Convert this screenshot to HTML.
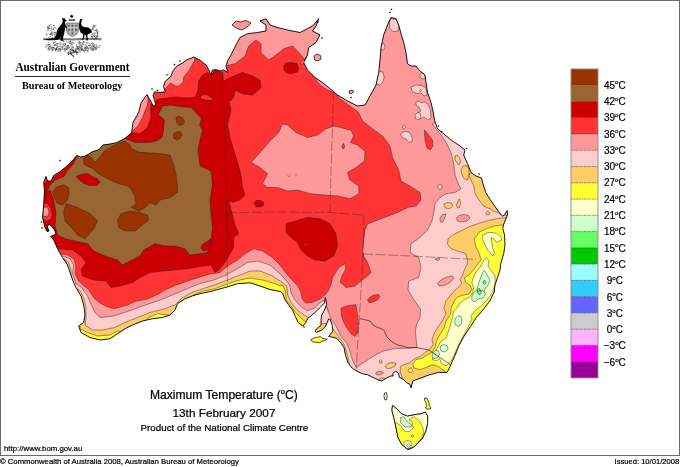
<!DOCTYPE html>
<html><head><meta charset="utf-8"><title>Maximum Temperature</title>
<style>
html,body{margin:0;padding:0;background:#fff;}
body{width:680px;height:467px;position:relative;overflow:hidden;font-family:"Liberation Sans",sans-serif;color:#000;}
#frame{position:absolute;left:0;top:0;width:678px;height:454px;border:1px solid #6a6a6a;}
.lg{font-family:"Liberation Sans",sans-serif;font-size:10px;fill:#000;stroke:#000;stroke-width:0.2px;}
.t{position:absolute;white-space:nowrap;line-height:1;-webkit-text-stroke:0.22px #000;}
#ag{left:15.5px;top:61.7px;font-family:"Liberation Serif",serif;font-weight:bold;font-size:11.2px;-webkit-text-stroke:0;transform:scaleY(1.05);transform-origin:0 80%;}
#bm{left:22px;top:81px;font-family:"Liberation Serif",serif;font-weight:bold;font-size:10.2px;-webkit-text-stroke:0;transform:scaleY(1.05);transform-origin:0 80%;}
#rule{position:absolute;left:15px;top:75.5px;width:114.5px;height:1px;background:#2a2a2a;}
#t1{left:150px;top:388.5px;font-size:12.1px;}
#t2{left:172.5px;top:407.5px;font-size:11.8px;}
#t3{left:140.5px;top:422.6px;font-size:9.8px;}
#url{left:3.7px;top:445.2px;font-size:8.1px;transform:scaleX(0.963);transform-origin:0 0;}
#cp{left:0px;top:458.2px;font-size:8px;transform:scaleX(0.9625);transform-origin:0 0;}
#is{right:0.5px;top:458.2px;font-size:7.9px;transform:scaleX(0.962);transform-origin:100% 0;}
sup.o{font-size:7.6px;vertical-align:baseline;position:relative;top:-4.6px;line-height:0;}
</style></head><body>
<div id="frame"></div>
<svg width="680" height="456" viewBox="0 0 680 456" style="position:absolute;left:0;top:0">
<defs><clipPath id="land"><path d="M147.0,94.5 L149.4,98.8 L153.8,106.8 L155.6,104.0 L153.0,95.3 L154.7,91.8 L158.2,92.6 L165.3,91.8 L163.5,86.5 L165.3,81.2 L170.6,76.8 L173.2,70.6 L176.8,66.2 L183.0,62.6 L186.5,60.0 L193.7,57.0 L200.0,60.0 L206.0,65.0 L209.5,71.0 L210.5,75.0 L212.5,70.0 L216.0,69.5 L220.0,71.0 L223.7,70.0 L228.0,72.5 L226.0,66.0 L227.5,61.0 L231.0,55.0 L234.0,49.0 L236.0,45.0 L240.0,37.5 L247.5,33.7 L257.5,32.5 L266.0,31.0 L266.0,25.0 L260.0,21.0 L266.0,18.7 L270.0,25.0 L277.5,27.5 L287.5,30.0 L300.0,32.5 L307.5,28.7 L313.7,25.0 L318.7,18.7 L316.0,26.0 L312.5,31.0 L320.0,35.0 L316.0,42.5 L308.7,47.5 L307.5,55.0 L303.7,62.5 L307.5,70.0 L315.0,77.5 L322.5,82.5 L330.0,88.7 L337.5,95.0 L347.5,101.0 L357.5,106.0 L365.0,105.0 L370.0,96.0 L376.0,85.0 L378.7,72.5 L380.0,60.0 L381.0,47.5 L383.7,35.0 L387.5,25.0 L391.0,17.5 L396.0,18.7 L398.7,25.0 L401.0,33.7 L403.7,42.5 L406.0,52.5 L407.5,63.7 L411.0,66.0 L416.0,66.0 L420.0,71.0 L425.0,75.0 L426.0,82.5 L427.5,92.5 L431.0,102.5 L433.0,111.0 L434.5,120.0 L437.5,128.7 L445.0,135.0 L452.5,141.0 L460.0,146.0 L465.0,150.0 L463.7,155.0 L467.5,163.7 L471.0,172.5 L476.0,176.0 L481.4,178.0 L483.0,184.0 L485.7,192.5 L490.0,199.4 L494.2,205.4 L498.5,211.4 L502.5,216.2 L504.5,215.0 L507.0,210.5 L507.6,214.0 L506.2,218.2 L503.7,224.2 L502.8,228.5 L504.5,235.0 L505.0,245.0 L503.7,253.7 L501.0,262.5 L500.0,270.0 L497.5,277.5 L495.0,285.0 L494.2,292.0 L490.0,300.7 L483.5,309.3 L476.0,317.8 L470.7,326.4 L464.2,336.0 L458.9,345.7 L454.6,356.4 L450.3,366.0 L447.1,372.4 L438.5,372.4 L430.0,374.6 L421.4,377.8 L412.8,381.0 L411.0,388.0 L410.0,384.4 L406.5,382.6 L403.0,379.0 L399.4,377.4 L398.5,373.0 L395.5,371.2 L392.8,373.5 L393.2,376.0 L390.6,376.0 L386.2,378.2 L381.8,381.0 L378.2,380.0 L373.0,377.4 L367.6,374.7 L362.4,373.8 L357.0,371.2 L352.6,368.5 L348.2,363.2 L345.5,355.3 L344.0,347.6 L341.2,343.4 L337.0,338.5 L332.9,337.2 L328.7,336.5 L331.0,333.5 L332.9,330.9 L332.2,325.3 L330.0,319.0 L328.5,319.0 L327.3,322.5 L325.2,326.7 L321.7,330.2 L316.2,332.3 L314.8,331.0 L317.5,328.0 L321.0,325.5 L321.0,319.8 L321.7,315.0 L324.5,310.0 L326.6,304.5 L325.9,299.0 L325.2,297.5 L324.5,303.0 L320.3,307.3 L315.5,312.0 L311.3,315.6 L307.8,318.4 L305.7,322.5 L303.0,326.0 L298.0,322.5 L295.3,316.3 L292.5,310.0 L288.3,304.5 L284.9,299.6 L282.8,293.3 L280.0,291.5 L270.0,289.5 L260.0,286.0 L250.0,282.8 L237.5,283.7 L225.0,287.5 L212.5,291.0 L200.0,293.7 L195.0,295.0 L185.0,298.7 L177.5,303.7 L175.0,310.0 L170.0,315.0 L162.5,317.5 L152.5,318.7 L142.5,321.0 L132.5,325.0 L125.0,328.7 L117.5,333.7 L110.0,338.7 L100.0,340.0 L90.0,337.5 L81.0,332.5 L78.7,326.0 L83.7,322.5 L85.0,315.0 L83.7,305.0 L81.0,296.0 L76.0,287.5 L73.0,281.0 L71.0,275.0 L67.5,265.0 L62.5,257.5 L57.5,248.7 L53.7,240.0 L50.5,236.5 L53.0,235.5 L56.0,234.0 L54.5,230.0 L51.5,226.0 L48.5,224.0 L47.5,227.0 L49.0,231.0 L47.0,231.5 L45.0,227.5 L42.5,217.5 L43.7,205.0 L44.5,190.0 L43.7,182.5 L46.0,176.5 L47.5,181.0 L51.2,181.0 L53.5,175.7 L59.5,172.0 L67.0,166.0 L73.7,159.2 L76.7,155.5 L80.5,157.0 L85.0,156.2 L92.5,151.7 L99.2,149.5 L103.0,145.0 L109.0,144.2 L116.5,142.7 L124.0,139.0 L131.5,133.0 L132.0,130.0 L133.0,122.5 L138.7,112.5 L141.2,102.5Z"/></clipPath><clipPath id="tasc"><path d="M392.5,405.5 L391.7,410.0 L394.0,419.0 L396.0,428.0 L397.7,437.0 L401.5,444.4 L408.0,449.7 L413.4,447.4 L418.0,443.0 L422.4,438.4 L426.0,431.0 L427.7,423.4 L427.7,416.0 L425.4,412.0 L421.0,413.7 L415.0,414.5 L407.5,416.0 L401.5,413.7 L397.0,409.0 L394.7,407.0Z"/></clipPath></defs>
<g clip-path="url(#land)"><path d="M147.0,94.5 L149.4,98.8 L153.8,106.8 L155.6,104.0 L153.0,95.3 L154.7,91.8 L158.2,92.6 L165.3,91.8 L163.5,86.5 L165.3,81.2 L170.6,76.8 L173.2,70.6 L176.8,66.2 L183.0,62.6 L186.5,60.0 L193.7,57.0 L200.0,60.0 L206.0,65.0 L209.5,71.0 L210.5,75.0 L212.5,70.0 L216.0,69.5 L220.0,71.0 L223.7,70.0 L228.0,72.5 L226.0,66.0 L227.5,61.0 L231.0,55.0 L234.0,49.0 L236.0,45.0 L240.0,37.5 L247.5,33.7 L257.5,32.5 L266.0,31.0 L266.0,25.0 L260.0,21.0 L266.0,18.7 L270.0,25.0 L277.5,27.5 L287.5,30.0 L300.0,32.5 L307.5,28.7 L313.7,25.0 L318.7,18.7 L316.0,26.0 L312.5,31.0 L320.0,35.0 L316.0,42.5 L308.7,47.5 L307.5,55.0 L303.7,62.5 L307.5,70.0 L315.0,77.5 L322.5,82.5 L330.0,88.7 L337.5,95.0 L347.5,101.0 L357.5,106.0 L365.0,105.0 L370.0,96.0 L376.0,85.0 L378.7,72.5 L380.0,60.0 L381.0,47.5 L383.7,35.0 L387.5,25.0 L391.0,17.5 L396.0,18.7 L398.7,25.0 L401.0,33.7 L403.7,42.5 L406.0,52.5 L407.5,63.7 L411.0,66.0 L416.0,66.0 L420.0,71.0 L425.0,75.0 L426.0,82.5 L427.5,92.5 L431.0,102.5 L433.0,111.0 L434.5,120.0 L437.5,128.7 L445.0,135.0 L452.5,141.0 L460.0,146.0 L465.0,150.0 L463.7,155.0 L467.5,163.7 L471.0,172.5 L476.0,176.0 L481.4,178.0 L483.0,184.0 L485.7,192.5 L490.0,199.4 L494.2,205.4 L498.5,211.4 L502.5,216.2 L504.5,215.0 L507.0,210.5 L507.6,214.0 L506.2,218.2 L503.7,224.2 L502.8,228.5 L504.5,235.0 L505.0,245.0 L503.7,253.7 L501.0,262.5 L500.0,270.0 L497.5,277.5 L495.0,285.0 L494.2,292.0 L490.0,300.7 L483.5,309.3 L476.0,317.8 L470.7,326.4 L464.2,336.0 L458.9,345.7 L454.6,356.4 L450.3,366.0 L447.1,372.4 L438.5,372.4 L430.0,374.6 L421.4,377.8 L412.8,381.0 L411.0,388.0 L410.0,384.4 L406.5,382.6 L403.0,379.0 L399.4,377.4 L398.5,373.0 L395.5,371.2 L392.8,373.5 L393.2,376.0 L390.6,376.0 L386.2,378.2 L381.8,381.0 L378.2,380.0 L373.0,377.4 L367.6,374.7 L362.4,373.8 L357.0,371.2 L352.6,368.5 L348.2,363.2 L345.5,355.3 L344.0,347.6 L341.2,343.4 L337.0,338.5 L332.9,337.2 L328.7,336.5 L331.0,333.5 L332.9,330.9 L332.2,325.3 L330.0,319.0 L328.5,319.0 L327.3,322.5 L325.2,326.7 L321.7,330.2 L316.2,332.3 L314.8,331.0 L317.5,328.0 L321.0,325.5 L321.0,319.8 L321.7,315.0 L324.5,310.0 L326.6,304.5 L325.9,299.0 L325.2,297.5 L324.5,303.0 L320.3,307.3 L315.5,312.0 L311.3,315.6 L307.8,318.4 L305.7,322.5 L303.0,326.0 L298.0,322.5 L295.3,316.3 L292.5,310.0 L288.3,304.5 L284.9,299.6 L282.8,293.3 L280.0,291.5 L270.0,289.5 L260.0,286.0 L250.0,282.8 L237.5,283.7 L225.0,287.5 L212.5,291.0 L200.0,293.7 L195.0,295.0 L185.0,298.7 L177.5,303.7 L175.0,310.0 L170.0,315.0 L162.5,317.5 L152.5,318.7 L142.5,321.0 L132.5,325.0 L125.0,328.7 L117.5,333.7 L110.0,338.7 L100.0,340.0 L90.0,337.5 L81.0,332.5 L78.7,326.0 L83.7,322.5 L85.0,315.0 L83.7,305.0 L81.0,296.0 L76.0,287.5 L73.0,281.0 L71.0,275.0 L67.5,265.0 L62.5,257.5 L57.5,248.7 L53.7,240.0 L50.5,236.5 L53.0,235.5 L56.0,234.0 L54.5,230.0 L51.5,226.0 L48.5,224.0 L47.5,227.0 L49.0,231.0 L47.0,231.5 L45.0,227.5 L42.5,217.5 L43.7,205.0 L44.5,190.0 L43.7,182.5 L46.0,176.5 L47.5,181.0 L51.2,181.0 L53.5,175.7 L59.5,172.0 L67.0,166.0 L73.7,159.2 L76.7,155.5 L80.5,157.0 L85.0,156.2 L92.5,151.7 L99.2,149.5 L103.0,145.0 L109.0,144.2 L116.5,142.7 L124.0,139.0 L131.5,133.0 L132.0,130.0 L133.0,122.5 L138.7,112.5 L141.2,102.5Z" fill="#FF3333"/>
<path d="M55.0,252.0 L61.0,253.7 L67.5,255.0 L73.7,258.7 L76.0,266.0 L75.0,273.7 L78.7,281.0 L84.0,286.0 L88.7,289.5 L94.0,298.0 L100.0,303.0 L107.5,307.0 L114.0,308.7 L120.0,307.0 L127.5,305.0 L135.0,301.5 L147.5,299.0 L157.5,294.5 L165.0,290.0 L175.0,285.5 L187.5,281.0 L200.0,277.0 L210.0,274.0 L220.0,272.5 L227.5,266.0 L237.5,260.0 L245.0,253.7 L253.7,248.7 L262.5,251.0 L272.5,257.5 L280.0,265.0 L287.5,275.0 L295.0,283.0 L298.0,286.0 L300.9,292.0 L302.3,299.0 L305.7,303.0 L312.0,302.4 L319.0,299.6 L324.5,295.4 L328.0,291.3 L330.8,285.0 L332.5,277.5 L338.7,267.5 L345.0,263.7 L346.0,268.7 L342.0,276.0 L340.0,282.0 L346.0,287.5 L355.0,286.0 L361.0,281.0 L367.5,276.0 L371.0,272.5 L367.5,262.5 L363.7,256.0 L362.5,250.0 L363.7,240.0 L365.0,230.0 L367.5,224.0 L375.0,221.0 L385.0,217.3 L397.5,212.5 L407.5,207.5 L416.0,206.0 L421.0,200.0 L420.0,192.5 L410.0,186.0 L401.0,181.0 L398.7,170.0 L392.5,157.5 L390.0,146.0 L382.5,136.0 L372.5,128.7 L362.5,121.0 L358.7,112.5 L350.0,106.0 L340.0,98.7 L335.0,93.0 L327.5,90.0 L320.0,85.0 L315.0,78.7 L312.0,74.0 L330.0,40.0 L360.0,5.0 L520.0,5.0 L530.0,300.0 L460.0,400.0 L300.0,400.0 L200.0,360.0 L60.0,360.0 L40.0,300.0 L48.0,256.0Z" fill="#FF9999" stroke="#222" stroke-width="0.45" stroke-linejoin="round"/>
<path d="M222.0,66.5 L225.0,66.0 L235.0,63.7 L245.0,56.0 L248.7,46.0 L256.0,40.0 L261.0,43.7 L261.0,52.5 L268.7,60.0 L276.0,55.0 L283.7,48.7 L292.5,46.0 L298.7,52.5 L305.0,60.0 L303.7,63.7 L300.0,64.0 L312.0,50.0 L330.0,15.0 L260.0,8.0 L222.0,40.0Z" fill="#FF9999" stroke="#222" stroke-width="0.45" stroke-linejoin="round"/>
<path d="M163.0,92.5 L166.0,88.0 L170.6,83.0 L174.0,85.0 L177.6,86.5 L180.0,85.0 L183.0,82.0 L183.8,76.8 L189.0,70.6 L191.8,65.3 L194.4,61.0 L195.0,55.0 L160.0,55.0 L150.0,90.0Z" fill="#FF9999" stroke="#222" stroke-width="0.45" stroke-linejoin="round"/>
<path d="M147.0,93.0 L148.0,98.0 L147.5,105.0 L145.0,111.0 L142.5,117.5 L138.7,125.0 L133.7,130.0 L125.0,135.0 L125.0,90.0Z" fill="#FF9999" stroke="#222" stroke-width="0.45" stroke-linejoin="round"/>
<path d="M251.0,162.5 L260.0,152.5 L270.0,141.0 L278.7,132.5 L282.5,123.7 L287.5,125.0 L296.0,132.5 L307.5,137.5 L317.5,135.0 L326.0,128.7 L335.0,126.0 L345.0,128.7 L351.0,130.0 L353.7,136.0 L350.5,142.5 L357.5,145.0 L365.0,151.0 L364.5,161.0 L356.0,167.5 L347.5,172.5 L350.0,180.0 L358.7,186.0 L359.0,193.7 L350.0,198.7 L337.5,196.0 L325.0,195.0 L310.0,193.7 L297.5,190.0 L287.5,191.0 L277.5,187.5 L267.5,187.5 L262.5,183.7 L267.5,173.7 L260.0,167.5Z" fill="#FF9999" stroke="#222" stroke-width="0.45" stroke-linejoin="round"/>
<path d="M288.0,175.7 L289.0,174.7 L290.2,175.7 L289.0,176.8Z" fill="#FFFFCC" stroke="#222" stroke-width="0.45" stroke-linejoin="round"/>
<path d="M295.0,174.5 L296.0,173.6 L297.0,174.5 L296.0,175.5Z" fill="#FFFFCC" stroke="#222" stroke-width="0.45" stroke-linejoin="round"/>
<path d="M55.0,255.0 L62.5,256.0 L70.0,258.7 L73.7,265.0 L72.5,273.7 L76.0,283.7 L81.0,287.0 L87.0,295.0 L91.0,304.0 L95.0,312.5 L100.0,317.5 L112.5,316.3 L127.5,311.5 L142.5,306.0 L160.0,300.0 L172.5,295.0 L185.0,289.5 L200.0,283.5 L212.5,280.5 L225.0,275.5 L237.5,268.7 L247.5,262.5 L257.5,261.0 L270.0,265.0 L280.0,273.7 L286.5,281.0 L289.7,285.0 L291.1,293.3 L295.3,300.3 L300.9,306.6 L307.1,310.7 L314.8,308.0 L319.6,303.0 L324.0,300.0 L328.0,310.0 L326.0,335.0 L300.0,345.0 L200.0,360.0 L60.0,360.0 L40.0,300.0 L48.0,258.0Z" fill="#FFCCCC" stroke="#222" stroke-width="0.45" stroke-linejoin="round"/>
<path d="M318.0,325.0 L322.0,306.0 L326.6,307.3 L328.7,312.8 L331.5,319.8 L335.6,325.3 L338.4,330.9 L341.2,336.5 L346.8,343.4 L349.5,350.0 L352.6,360.6 L356.2,367.6 L362.4,363.2 L369.4,358.8 L376.5,354.4 L383.5,350.9 L392.4,349.0 L401.2,348.2 L410.0,348.2 L417.0,347.4 L416.2,339.4 L415.3,330.6 L417.0,323.5 L420.0,318.0 L420.5,309.0 L414.0,300.0 L408.0,290.0 L408.7,281.0 L418.7,277.5 L421.0,267.5 L418.7,257.5 L410.0,252.5 L411.0,243.7 L420.0,237.5 L427.5,230.0 L432.0,221.0 L433.7,212.5 L435.0,203.7 L440.0,197.5 L446.0,193.7 L455.0,192.5 L461.0,188.7 L458.7,185.0 L455.0,175.0 L453.7,163.7 L451.0,152.5 L446.0,142.5 L440.0,133.7 L435.0,127.5 L432.0,124.0 L445.0,118.0 L520.0,200.0 L530.0,300.0 L460.0,400.0 L340.0,395.0 L322.0,340.0Z" fill="#FFCCCC" stroke="#222" stroke-width="0.45" stroke-linejoin="round"/>
<path d="M381.0,44.0 L384.0,43.5 L385.0,47.0 L383.5,50.0 L381.0,50.0Z" fill="#FFCCCC" stroke="#222" stroke-width="0.45" stroke-linejoin="round"/>
<path d="M378.0,74.0 L380.0,71.5 L383.0,72.0 L384.2,77.0 L383.0,82.0 L380.0,85.0 L377.5,84.5 L376.0,82.0Z" fill="#FFCCCC" stroke="#222" stroke-width="0.45" stroke-linejoin="round"/>
<path d="M389.5,22.0 L391.0,18.5 L396.5,19.5 L398.8,25.5 L398.0,31.0 L393.0,31.5 L389.5,28.0Z" fill="#FFCCCC" stroke="#222" stroke-width="0.45" stroke-linejoin="round"/>
<path d="M420.0,73.5 L423.0,72.5 L425.5,75.0 L425.0,78.5 L422.0,79.0 L420.0,77.0Z" fill="#FFCCCC" stroke="#222" stroke-width="0.45" stroke-linejoin="round"/>
<path d="M411.0,87.0 L416.0,85.0 L422.0,85.5 L426.0,88.0 L427.0,95.0 L424.0,96.0 L421.0,93.0 L416.0,93.5 L412.0,91.0Z" fill="#FFCCCC" stroke="#222" stroke-width="0.45" stroke-linejoin="round"/>
<path d="M416.0,102.0 L419.0,101.0 L422.0,103.0 L424.0,101.5 L428.0,104.0 L430.5,110.0 L431.0,118.0 L428.0,120.0 L424.0,117.0 L420.0,119.0 L416.5,117.5 L418.0,113.0 L421.0,111.0 L419.0,107.0 L416.0,105.0Z" fill="#FFCCCC" stroke="#222" stroke-width="0.45" stroke-linejoin="round"/>
<path d="M400.5,134.0 L404.0,131.5 L409.0,132.0 L411.5,136.0 L412.5,141.0 L409.0,142.5 L406.0,139.0 L402.0,137.5Z" fill="#FFCCCC" stroke="#222" stroke-width="0.45" stroke-linejoin="round"/>
<path d="M402.5,126.0 L404.5,125.0 L406.0,127.0 L404.5,129.0 L402.8,128.5Z" fill="#FFCCCC" stroke="#222" stroke-width="0.45" stroke-linejoin="round"/>
<path d="M415.0,115.0 L417.5,112.5 L420.5,113.5 L421.0,117.5 L418.0,120.0 L415.5,118.5Z" fill="#FFCCCC" stroke="#222" stroke-width="0.45" stroke-linejoin="round"/>
<path d="M438.0,185.0 L440.0,184.3 L442.3,186.0 L441.7,188.8 L439.5,189.5 L437.7,187.5Z" fill="#FFCCCC" stroke="#222" stroke-width="0.45" stroke-linejoin="round"/>
<path d="M456.5,218.0 L459.0,215.5 L464.0,214.5 L468.5,215.5 L470.0,218.0 L467.0,221.0 L461.0,222.0 L457.5,221.0Z" fill="#FF9999" stroke="#222" stroke-width="0.45" stroke-linejoin="round"/>
<path d="M440.0,218.0 L442.5,214.5 L446.0,214.0 L444.5,218.5 L442.5,222.5 L440.2,221.5Z" fill="#FF9999" stroke="#222" stroke-width="0.45" stroke-linejoin="round"/>
<path d="M437.5,283.5 L441.0,280.0 L447.0,277.0 L452.5,276.0 L453.8,278.5 L450.0,282.5 L444.0,285.5 L439.0,286.0Z" fill="#FF9999" stroke="#222" stroke-width="0.45" stroke-linejoin="round"/>
<path d="M435.0,259.0 L437.5,258.0 L440.0,259.0 L437.5,260.5Z" fill="#FF9999" stroke="#222" stroke-width="0.45" stroke-linejoin="round"/>
<path d="M375.6,373.0 L378.0,371.3 L382.0,371.5 L383.5,373.0 L381.0,374.7 L377.0,374.9Z" fill="#FF9999" stroke="#222" stroke-width="0.45" stroke-linejoin="round"/>
<path d="M56.0,258.0 L63.7,258.7 L68.7,262.5 L71.0,270.0 L71.0,277.5 L75.0,287.5 L79.5,290.0 L83.7,297.5 L86.0,307.5 L86.0,317.5 L85.0,325.0 L92.5,330.0 L102.5,330.0 L115.0,327.5 L125.0,322.5 L137.5,317.5 L150.0,312.5 L165.0,308.7 L175.0,305.0 L182.5,297.5 L193.0,292.0 L205.0,288.0 L215.0,284.8 L225.0,281.0 L237.5,276.0 L250.0,271.0 L260.0,271.0 L272.5,276.0 L282.5,282.5 L287.0,286.4 L287.6,294.7 L291.1,302.4 L295.3,308.0 L300.9,312.8 L306.4,316.3 L309.0,318.0 L312.0,322.0 L300.0,345.0 L200.0,360.0 L60.0,360.0 L40.0,300.0 L48.0,260.0Z" fill="#FFCC66" stroke="#222" stroke-width="0.45" stroke-linejoin="round"/>
<path d="M403.0,380.0 L400.3,372.0 L400.3,366.5 L403.2,365.0 L409.6,362.8 L415.0,358.5 L420.3,356.4 L425.7,352.1 L430.0,348.9 L433.2,344.6 L432.1,339.3 L434.3,332.8 L438.5,326.4 L442.8,320.0 L446.0,313.6 L443.9,308.2 L446.0,300.7 L450.0,296.0 L451.8,294.0 L454.5,290.5 L459.0,286.8 L461.8,283.2 L460.0,279.5 L462.7,275.0 L464.5,269.5 L467.3,264.0 L467.3,258.6 L465.5,253.2 L458.2,251.4 L451.0,248.6 L447.3,244.0 L448.2,238.6 L452.7,235.0 L460.0,231.4 L469.0,226.8 L479.0,223.2 L489.0,220.5 L498.2,218.4 L503.0,218.0 L530.0,215.0 L530.0,300.0 L460.0,400.0 L405.0,395.0Z" fill="#FFCC66" stroke="#222" stroke-width="0.45" stroke-linejoin="round"/>
<path d="M470.3,178.8 L473.7,185.7 L475.4,194.2 L479.7,201.0 L484.0,206.2 L490.0,208.8 L494.2,211.4 L497.7,212.2 L500.0,214.0 L510.0,216.0 L512.0,200.0 L490.0,175.0 L477.0,170.0 L469.0,174.0Z" fill="#FFCC66" stroke="#222" stroke-width="0.45" stroke-linejoin="round"/>
<path d="M485.7,213.0 L487.5,211.4 L490.0,212.5 L489.0,214.8 L486.5,214.8Z" fill="#FFCC66" stroke="#222" stroke-width="0.45" stroke-linejoin="round"/>
<path d="M461.0,170.0 L463.0,166.0 L466.5,165.5 L468.8,169.0 L469.0,175.0 L467.5,180.0 L464.0,178.5 L462.0,175.0Z" fill="#FFCC66" stroke="#222" stroke-width="0.45" stroke-linejoin="round"/>
<path d="M455.0,156.0 L457.0,155.0 L459.5,157.5 L460.5,162.0 L459.0,165.0 L457.0,163.0 L455.3,160.0Z" fill="#FFCC66" stroke="#222" stroke-width="0.45" stroke-linejoin="round"/>
<path d="M443.7,204.5 L447.0,202.5 L451.5,203.0 L452.8,206.0 L449.5,208.7 L445.5,208.0Z" fill="#FFCC66" stroke="#222" stroke-width="0.45" stroke-linejoin="round"/>
<path d="M456.5,205.0 L458.0,201.0 L459.5,199.0 L460.5,203.0 L459.5,207.5 L457.5,207.8Z" fill="#FFCC66" stroke="#222" stroke-width="0.45" stroke-linejoin="round"/>
<path d="M385.3,366.0 L388.0,363.5 L392.0,362.5 L396.0,363.3 L395.0,366.0 L391.0,368.0 L387.0,368.7Z" fill="#FFCC66" stroke="#222" stroke-width="0.45" stroke-linejoin="round"/>
<path d="M379.0,361.0 L380.5,359.7 L382.0,361.0 L381.5,363.2 L379.6,363.0Z" fill="#FFCC66" stroke="#222" stroke-width="0.45" stroke-linejoin="round"/>
<path d="M379.0,379.0 L382.0,377.8 L385.5,378.5 L386.0,382.0 L381.0,383.0 L378.0,381.0Z" fill="#FFCC66" stroke="#222" stroke-width="0.45" stroke-linejoin="round"/>
<path d="M333.5,329.5 L335.5,332.5 L338.5,336.5 L342.0,341.0 L345.0,346.5 L347.5,356.0 L349.5,364.0 L345.0,365.0 L340.0,350.0 L333.0,340.0 L327.0,338.0 L329.0,332.0Z" fill="#FFCC66" stroke="#222" stroke-width="0.45" stroke-linejoin="round"/>
<path d="M313.0,330.0 L319.0,325.5 L322.0,323.5 L326.5,323.5 L326.0,328.0 L321.0,332.0 L315.0,334.0Z" fill="#FFCC66" stroke="#222" stroke-width="0.45" stroke-linejoin="round"/>
<path d="M76.0,322.0 L80.0,326.5 L80.5,329.0 L87.5,332.5 L97.5,336.0 L110.0,335.0 L117.5,331.0 L124.0,331.5 L135.0,327.5 L144.0,323.0 L148.7,317.5 L157.5,313.7 L167.5,315.0 L173.0,316.5 L179.0,308.0 L186.0,301.0 L192.5,295.3 L202.5,291.3 L215.0,288.7 L225.0,284.7 L237.5,280.5 L250.0,278.0 L262.5,280.0 L275.0,283.7 L280.0,286.0 L282.8,285.0 L285.6,292.0 L286.3,300.3 L291.1,305.9 L294.6,311.4 L299.5,316.3 L304.3,321.2 L306.5,323.0 L306.0,330.0 L300.0,345.0 L200.0,360.0 L60.0,360.0 L70.0,325.0Z" fill="#FFFF33" stroke="#222" stroke-width="0.45" stroke-linejoin="round"/>
<path d="M63.0,258.5 L65.5,260.0 L67.5,265.0 L66.0,266.0 L63.0,261.0Z" fill="#FFFF33" stroke="#222" stroke-width="0.45" stroke-linejoin="round"/>
<path d="M508.0,225.0 L502.7,225.0 L494.5,226.0 L486.4,228.6 L479.0,232.3 L474.5,238.6 L475.5,246.0 L479.0,253.0 L481.0,259.5 L477.3,265.0 L473.6,269.5 L469.0,275.0 L464.5,277.7 L465.5,282.3 L470.0,285.0 L471.8,289.5 L469.0,294.0 L463.6,295.0 L458.0,296.8 L455.0,299.6 L451.4,307.1 L450.3,314.6 L446.0,321.0 L443.9,328.5 L439.6,335.0 L436.4,341.4 L435.3,346.7 L432.1,352.1 L426.8,355.3 L421.4,358.5 L416.0,359.6 L412.8,363.9 L414.0,368.0 L420.0,369.6 L426.8,367.2 L432.1,364.8 L437.5,366.0 L441.8,369.0 L446.0,372.4 L448.0,376.0 L470.0,370.0 L525.0,300.0 L525.0,225.0Z" fill="#FFFF33" stroke="#222" stroke-width="0.45" stroke-linejoin="round"/>
<path d="M408.0,370.3 L409.2,368.3 L411.5,368.3 L412.6,370.3 L411.5,372.4 L409.2,372.4Z" fill="#FFFF33" stroke="#222" stroke-width="0.45" stroke-linejoin="round"/>
<path d="M419.6,90.7 L420.5,89.5 L421.6,90.7 L420.5,92.0Z" fill="#FFFF33" stroke="#222" stroke-width="0.45" stroke-linejoin="round"/>
<path d="M482.7,235.0 L489.0,232.3 L496.4,233.2 L501.8,237.7 L501.0,240.5 L496.4,242.3 L493.6,238.6 L491.0,237.7 L491.8,242.3 L492.7,247.7 L494.5,253.0 L492.7,256.0 L488.0,250.5 L484.5,244.0 L482.7,238.6Z" fill="#FFFFCC" stroke="#222" stroke-width="0.45" stroke-linejoin="round"/>
<path d="M486.4,257.7 L489.0,260.5 L488.0,266.0 L491.8,271.4 L494.5,275.0 L495.5,280.5 L494.5,286.0 L492.7,291.4 L490.0,296.0 L487.0,300.0 L482.0,305.0 L476.0,310.0 L470.7,315.7 L472.0,319.0 L466.0,331.0 L460.0,342.0 L455.0,353.0 L451.4,360.7 L446.0,366.0 L441.8,363.9 L439.6,358.5 L436.4,360.7 L432.1,359.6 L434.3,353.2 L437.5,347.8 L440.7,341.4 L446.0,338.2 L448.2,331.8 L450.3,325.3 L452.5,317.8 L453.5,311.4 L456.7,308.2 L460.0,303.0 L464.0,300.0 L470.0,296.8 L472.7,293.0 L473.6,287.7 L471.8,282.3 L473.6,276.8 L476.4,271.4 L481.0,266.0 L483.6,260.5Z" fill="#FFFFCC" stroke="#222" stroke-width="0.45" stroke-linejoin="round"/>
<path d="M484.5,270.5 L487.3,275.0 L490.0,280.5 L488.0,285.0 L485.5,287.7 L483.6,293.0 L480.0,296.0 L476.4,293.0 L477.3,287.7 L479.0,282.3 L481.0,276.8 L482.7,272.3Z" fill="#CCFFCC" stroke="#222" stroke-width="0.45" stroke-linejoin="round"/>
<path d="M455.5,318.0 L458.0,315.7 L461.0,316.5 L462.1,320.0 L461.0,324.5 L458.5,326.4 L455.5,325.0 L454.6,321.5Z" fill="#CCFFCC" stroke="#222" stroke-width="0.45" stroke-linejoin="round"/>
<path d="M471.7,297.0 L474.0,292.0 L478.0,290.0 L483.0,290.5 L485.6,294.0 L483.0,298.0 L478.0,299.0 L475.0,301.8 L472.0,300.5Z" fill="#CCFFCC" stroke="#222" stroke-width="0.45" stroke-linejoin="round"/>
<path d="M440.0,347.0 L443.0,344.6 L447.0,345.5 L448.2,349.0 L445.0,352.1 L441.0,351.0Z" fill="#CCFFCC" stroke="#222" stroke-width="0.45" stroke-linejoin="round"/>
<path d="M432.5,353.5 L435.0,350.5 L438.5,351.0 L439.6,354.5 L437.0,358.0 L433.5,358.5 L432.0,356.0Z" fill="#CCFFCC" stroke="#222" stroke-width="0.45" stroke-linejoin="round"/>
<path d="M483.3,281.0 L485.0,280.5 L485.8,283.0 L484.3,284.5 L483.0,283.2Z" fill="#66FF66" stroke="#222" stroke-width="0.45" stroke-linejoin="round"/>
<path d="M477.5,289.0 L479.2,288.0 L480.5,290.5 L479.0,293.0 L477.2,292.0Z" fill="#66FF66" stroke="#222" stroke-width="0.45" stroke-linejoin="round"/>
<path d="M477.5,292.0 L479.0,290.5 L481.0,291.0 L481.0,293.5 L479.0,295.0Z" fill="#66FF66" stroke="#222" stroke-width="0.45" stroke-linejoin="round"/>
<path d="M424.3,130.0 L427.0,133.0 L432.5,140.0 L433.0,146.0 L430.0,150.0 L427.0,148.0 L425.0,140.0Z" fill="#FF3333" stroke="#222" stroke-width="0.45" stroke-linejoin="round"/>
<path d="M341.2,308.0 L346.8,305.9 L355.8,304.5 L357.2,312.8 L358.6,323.9 L357.9,332.3 L355.1,336.5 L351.0,333.7 L346.8,328.0 L343.3,321.2 L341.2,314.2Z" fill="#FF3333" stroke="#222" stroke-width="0.45" stroke-linejoin="round"/>
<path d="M367.5,300.0 L370.0,297.0 L374.0,295.0 L378.5,294.5 L380.0,296.5 L378.0,299.5 L373.5,302.0 L369.0,302.7Z" fill="#FF3333" stroke="#222" stroke-width="0.45" stroke-linejoin="round"/>
<path d="M342.0,146.0 L343.5,143.5 L344.7,146.0 L344.0,148.5 L342.5,148.5Z" fill="#FF3333" stroke="#222" stroke-width="0.45" stroke-linejoin="round"/>
<path d="M56.0,247.0 L58.7,248.7 L72.5,250.0 L81.0,256.0 L86.0,262.5 L81.0,270.0 L82.5,276.0 L93.7,280.0 L106.0,281.0 L111.0,287.5 L120.0,286.0 L132.5,282.5 L140.0,277.5 L150.0,272.5 L162.5,271.0 L175.0,270.0 L187.5,268.7 L200.0,266.5 L211.0,265.0 L215.0,272.5 L218.7,270.0 L225.0,262.5 L228.7,256.0 L233.7,247.5 L233.7,237.5 L238.7,233.7 L235.0,225.0 L232.5,215.0 L230.5,208.0 L228.7,200.0 L232.5,202.5 L240.0,200.0 L245.0,195.0 L242.5,187.5 L241.0,175.0 L237.5,162.5 L233.7,150.0 L230.0,137.5 L227.5,125.0 L231.0,110.0 L229.0,102.0 L233.7,97.5 L235.0,90.0 L242.5,93.7 L252.5,95.0 L261.0,87.5 L260.0,80.0 L252.5,76.0 L242.5,72.5 L230.0,77.5 L223.5,81.0 L222.5,73.0 L216.0,70.0 L214.0,71.0 L210.5,76.0 L207.6,72.4 L202.4,75.0 L198.8,81.0 L198.0,90.0 L195.3,97.0 L188.0,98.0 L175.9,97.0 L165.3,98.0 L156.5,99.7 L155.6,104.0 L153.8,106.8 L151.0,104.0 L150.5,110.0 L151.0,117.5 L147.5,127.5 L140.0,133.7 L131.0,132.5 L120.0,140.0 L70.0,150.0 L40.0,180.0 L36.0,230.0Z" fill="#CC0000" stroke="#222" stroke-width="0.45" stroke-linejoin="round"/>
<path d="M200.6,96.5 L203.0,94.6 L207.0,95.0 L210.0,97.0 L213.0,99.0 L212.0,100.6 L208.0,100.3 L203.5,99.5 L200.8,98.5Z" fill="#FF3333" stroke="#222" stroke-width="0.45" stroke-linejoin="round"/>
<path d="M283.7,66.0 L286.0,63.0 L291.0,62.5 L297.0,63.5 L298.7,68.0 L297.5,72.0 L292.0,73.7 L286.5,73.0 L284.0,70.0Z" fill="#CC0000" stroke="#222" stroke-width="0.45" stroke-linejoin="round"/>
<path d="M253.7,203.0 L256.0,200.5 L260.0,200.3 L263.7,202.5 L263.3,205.5 L260.0,207.0 L256.0,206.7Z" fill="#CC0000" stroke="#222" stroke-width="0.45" stroke-linejoin="round"/>
<path d="M286.0,223.7 L295.0,221.0 L307.5,217.5 L320.0,218.7 L330.0,223.7 L336.0,233.7 L337.5,246.0 L333.7,256.0 L325.0,261.0 L315.0,260.0 L307.5,256.0 L301.0,250.0 L297.5,242.5 L291.0,237.5 L286.0,232.5Z" fill="#CC0000" stroke="#222" stroke-width="0.45" stroke-linejoin="round"/>
<path d="M304.5,244.5 L305.7,243.3 L307.0,244.5 L305.7,245.7Z" fill="#FF3333" stroke="#222" stroke-width="0.45" stroke-linejoin="round"/>
<path d="M42.0,204.0 L47.0,203.0 L50.5,208.0 L52.0,214.0 L51.0,219.0 L47.0,221.0 L42.0,219.0Z" fill="#FF3333" stroke="#222" stroke-width="0.45" stroke-linejoin="round"/>
<path d="M43.0,207.5 L47.5,207.0 L49.0,212.0 L48.0,216.0 L43.0,216.5Z" fill="#FF9999" stroke="#222" stroke-width="0.45" stroke-linejoin="round"/>
<path d="M44.0,177.0 L47.0,176.5 L47.5,181.0 L45.0,183.0 L43.0,183.0Z" fill="#FF3333" stroke="#222" stroke-width="0.45" stroke-linejoin="round"/>
<path d="M52.0,176.0 L54.0,174.5 L60.0,172.0 L58.5,174.0 L54.0,177.5Z" fill="#FF3333" stroke="#222" stroke-width="0.45" stroke-linejoin="round"/>
<path d="M126.0,138.7 L135.0,142.5 L150.0,142.5 L157.5,140.5 L162.0,137.6 L163.5,130.6 L164.4,120.0 L158.2,114.7 L162.6,105.9 L170.6,105.0 L181.0,106.8 L191.8,107.6 L196.0,113.0 L201.5,118.0 L199.7,125.3 L202.5,130.0 L200.0,140.0 L198.0,150.0 L200.0,166.0 L211.0,171.0 L212.5,185.0 L210.0,200.0 L211.0,215.0 L212.5,227.5 L211.0,240.0 L207.5,252.5 L200.0,253.7 L190.0,255.0 L185.0,248.7 L175.0,246.0 L165.0,246.0 L155.0,243.7 L143.7,250.0 L140.0,256.0 L130.0,261.0 L122.5,265.0 L117.5,260.0 L105.0,256.0 L93.7,251.0 L87.5,243.7 L75.0,241.0 L65.0,238.7 L57.5,235.0 L55.0,225.0 L56.0,212.5 L53.7,200.0 L50.0,190.0 L46.7,193.0 L49.7,185.5 L55.0,180.2 L64.0,176.5 L67.7,170.5 L73.7,163.7 L76.0,158.5 L78.0,153.0 L90.0,147.0 L103.0,141.0 L118.0,137.0Z" fill="#996633" stroke="#222" stroke-width="0.45" stroke-linejoin="round"/>
<path d="M83.5,158.5 L88.0,155.5 L91.7,157.7 L94.7,162.2 L100.0,157.0 L104.5,151.0 L110.5,147.2 L118.0,143.5 L124.7,141.2 L129.2,144.2 L131.5,148.7 L140.0,152.5 L145.0,152.5 L160.0,153.7 L170.0,155.0 L173.7,165.0 L176.0,175.0 L177.5,187.5 L177.5,192.5 L170.0,197.5 L160.0,200.0 L156.0,205.0 L150.0,202.5 L145.0,207.5 L138.7,211.0 L131.0,207.5 L136.0,203.7 L135.0,197.5 L134.5,196.0 L131.5,190.0 L128.5,186.2 L119.5,184.0 L110.5,180.2 L103.0,176.5 L97.0,172.7 L92.5,168.2 L88.0,166.7 L83.5,163.7Z" fill="#993300" stroke="#222" stroke-width="0.45" stroke-linejoin="round"/>
<path d="M176.0,117.5 L179.0,116.0 L183.0,118.0 L184.5,122.0 L182.5,125.0 L179.0,125.5 L176.5,122.5Z" fill="#993300" stroke="#222" stroke-width="0.45" stroke-linejoin="round"/>
<path d="M173.5,134.0 L176.0,132.0 L180.0,131.5 L182.0,134.0 L180.5,138.0 L177.0,140.0 L174.0,138.5Z" fill="#993300" stroke="#222" stroke-width="0.45" stroke-linejoin="round"/>
<path d="M52.7,191.5 L56.5,187.0 L64.0,184.7 L68.5,187.7 L69.2,193.0 L67.5,200.0 L62.5,205.0 L57.0,203.0 L54.0,197.0Z" fill="#993300" stroke="#222" stroke-width="0.45" stroke-linejoin="round"/>
<path d="M66.0,203.7 L77.5,207.5 L90.0,213.7 L97.5,221.0 L93.7,228.7 L85.0,238.7 L77.5,235.0 L72.5,228.7 L65.0,221.0 L63.7,212.5Z" fill="#993300" stroke="#222" stroke-width="0.45" stroke-linejoin="round"/>
<path d="M121.0,213.7 L130.0,211.0 L140.0,212.5 L147.5,215.0 L148.7,220.0 L142.5,225.0 L135.0,231.0 L125.0,231.0 L118.7,227.5 L117.5,220.0Z" fill="#993300" stroke="#222" stroke-width="0.45" stroke-linejoin="round"/>
<path d="M76.0,176.5 L82.0,174.2 L88.0,173.5 L92.5,176.5 L97.7,178.7 L100.0,182.5 L97.0,185.5 L89.5,185.5 L83.5,183.2 L79.7,180.2Z" fill="#CC0000" stroke="#222" stroke-width="0.45" stroke-linejoin="round"/>
<path d="M201.0,247.0 L203.0,243.7 L208.0,241.0 L210.5,239.0 L211.0,246.0 L208.0,250.0 L203.0,251.0Z" fill="#CC0000" stroke="#222" stroke-width="0.45" stroke-linejoin="round"/>
<path d="M222.5,72.0 L224.0,110.0 L225.5,160.0 L226.5,212.0 L227.5,286.0" fill="none" stroke="#2a2a2a" stroke-width="0.5" stroke-dasharray="10 2.5" opacity="0.85"/>
<path d="M333.5,91.0 L332.5,130.0 L331.0,170.0 L330.0,212.5" fill="none" stroke="#2a2a2a" stroke-width="0.5" stroke-dasharray="10 2.5" opacity="0.85"/>
<path d="M227.0,212.5 L280.0,212.0 L330.0,212.5 L364.0,215.0" fill="none" stroke="#2a2a2a" stroke-width="0.5" stroke-dasharray="10 2.5" opacity="0.85"/>
<path d="M364.0,215.0 L363.0,254.0 L360.5,300.0 L358.0,337.0 L356.2,371.0" fill="none" stroke="#2a2a2a" stroke-width="0.5" stroke-dasharray="10 2.5" opacity="0.85"/>
<path d="M363.0,254.0 L400.0,255.5 L440.0,257.5 L476.0,259.5" fill="none" stroke="#2a2a2a" stroke-width="0.5" stroke-dasharray="10 2.5" opacity="0.85"/>
<path d="M359.8,318.7 L364.0,319.5 L370.0,321.0 L373.0,325.0 L377.5,327.5 L381.0,328.5 L383.7,330.0 L385.5,334.0 L387.5,337.5 L391.0,341.0 L395.0,343.7 L399.0,345.5 L402.5,346.0 L407.0,347.5 L412.5,347.5 L417.0,347.5 L422.5,348.7 L428.7,350.0 L451.0,365.0" fill="none" stroke="#111" stroke-width="0.6"/>
</g>
<path d="M147.0,94.5 L149.4,98.8 L153.8,106.8 L155.6,104.0 L153.0,95.3 L154.7,91.8 L158.2,92.6 L165.3,91.8 L163.5,86.5 L165.3,81.2 L170.6,76.8 L173.2,70.6 L176.8,66.2 L183.0,62.6 L186.5,60.0 L193.7,57.0 L200.0,60.0 L206.0,65.0 L209.5,71.0 L210.5,75.0 L212.5,70.0 L216.0,69.5 L220.0,71.0 L223.7,70.0 L228.0,72.5 L226.0,66.0 L227.5,61.0 L231.0,55.0 L234.0,49.0 L236.0,45.0 L240.0,37.5 L247.5,33.7 L257.5,32.5 L266.0,31.0 L266.0,25.0 L260.0,21.0 L266.0,18.7 L270.0,25.0 L277.5,27.5 L287.5,30.0 L300.0,32.5 L307.5,28.7 L313.7,25.0 L318.7,18.7 L316.0,26.0 L312.5,31.0 L320.0,35.0 L316.0,42.5 L308.7,47.5 L307.5,55.0 L303.7,62.5 L307.5,70.0 L315.0,77.5 L322.5,82.5 L330.0,88.7 L337.5,95.0 L347.5,101.0 L357.5,106.0 L365.0,105.0 L370.0,96.0 L376.0,85.0 L378.7,72.5 L380.0,60.0 L381.0,47.5 L383.7,35.0 L387.5,25.0 L391.0,17.5 L396.0,18.7 L398.7,25.0 L401.0,33.7 L403.7,42.5 L406.0,52.5 L407.5,63.7 L411.0,66.0 L416.0,66.0 L420.0,71.0 L425.0,75.0 L426.0,82.5 L427.5,92.5 L431.0,102.5 L433.0,111.0 L434.5,120.0 L437.5,128.7 L445.0,135.0 L452.5,141.0 L460.0,146.0 L465.0,150.0 L463.7,155.0 L467.5,163.7 L471.0,172.5 L476.0,176.0 L481.4,178.0 L483.0,184.0 L485.7,192.5 L490.0,199.4 L494.2,205.4 L498.5,211.4 L502.5,216.2 L504.5,215.0 L507.0,210.5 L507.6,214.0 L506.2,218.2 L503.7,224.2 L502.8,228.5 L504.5,235.0 L505.0,245.0 L503.7,253.7 L501.0,262.5 L500.0,270.0 L497.5,277.5 L495.0,285.0 L494.2,292.0 L490.0,300.7 L483.5,309.3 L476.0,317.8 L470.7,326.4 L464.2,336.0 L458.9,345.7 L454.6,356.4 L450.3,366.0 L447.1,372.4 L438.5,372.4 L430.0,374.6 L421.4,377.8 L412.8,381.0 L411.0,388.0 L410.0,384.4 L406.5,382.6 L403.0,379.0 L399.4,377.4 L398.5,373.0 L395.5,371.2 L392.8,373.5 L393.2,376.0 L390.6,376.0 L386.2,378.2 L381.8,381.0 L378.2,380.0 L373.0,377.4 L367.6,374.7 L362.4,373.8 L357.0,371.2 L352.6,368.5 L348.2,363.2 L345.5,355.3 L344.0,347.6 L341.2,343.4 L337.0,338.5 L332.9,337.2 L328.7,336.5 L331.0,333.5 L332.9,330.9 L332.2,325.3 L330.0,319.0 L328.5,319.0 L327.3,322.5 L325.2,326.7 L321.7,330.2 L316.2,332.3 L314.8,331.0 L317.5,328.0 L321.0,325.5 L321.0,319.8 L321.7,315.0 L324.5,310.0 L326.6,304.5 L325.9,299.0 L325.2,297.5 L324.5,303.0 L320.3,307.3 L315.5,312.0 L311.3,315.6 L307.8,318.4 L305.7,322.5 L303.0,326.0 L298.0,322.5 L295.3,316.3 L292.5,310.0 L288.3,304.5 L284.9,299.6 L282.8,293.3 L280.0,291.5 L270.0,289.5 L260.0,286.0 L250.0,282.8 L237.5,283.7 L225.0,287.5 L212.5,291.0 L200.0,293.7 L195.0,295.0 L185.0,298.7 L177.5,303.7 L175.0,310.0 L170.0,315.0 L162.5,317.5 L152.5,318.7 L142.5,321.0 L132.5,325.0 L125.0,328.7 L117.5,333.7 L110.0,338.7 L100.0,340.0 L90.0,337.5 L81.0,332.5 L78.7,326.0 L83.7,322.5 L85.0,315.0 L83.7,305.0 L81.0,296.0 L76.0,287.5 L73.0,281.0 L71.0,275.0 L67.5,265.0 L62.5,257.5 L57.5,248.7 L53.7,240.0 L50.5,236.5 L53.0,235.5 L56.0,234.0 L54.5,230.0 L51.5,226.0 L48.5,224.0 L47.5,227.0 L49.0,231.0 L47.0,231.5 L45.0,227.5 L42.5,217.5 L43.7,205.0 L44.5,190.0 L43.7,182.5 L46.0,176.5 L47.5,181.0 L51.2,181.0 L53.5,175.7 L59.5,172.0 L67.0,166.0 L73.7,159.2 L76.7,155.5 L80.5,157.0 L85.0,156.2 L92.5,151.7 L99.2,149.5 L103.0,145.0 L109.0,144.2 L116.5,142.7 L124.0,139.0 L131.5,133.0 L132.0,130.0 L133.0,122.5 L138.7,112.5 L141.2,102.5Z" fill="none" stroke="#000" stroke-width="0.9" stroke-linejoin="round"/>
<path d="M232.0,25.0 L236.0,21.0 L241.0,22.0 L246.0,20.5 L251.0,23.0 L247.0,27.0 L242.0,30.0 L237.0,28.5Z" fill="#FF9999" stroke="#000" stroke-width="0.7"/>
<path d="M314.0,56.0 L317.0,54.0 L320.5,55.5 L321.0,59.0 L318.0,61.0 L314.5,60.0Z" fill="#FF9999" stroke="#000" stroke-width="0.7"/>
<path d="M349.0,91.0 L352.0,90.0 L354.0,91.5 L351.5,93.5 L349.5,93.5Z" fill="#FF9999" stroke="#000" stroke-width="0.7"/>
<path d="M310.6,340.0 L314.0,337.9 L320.3,336.7 L323.0,338.5 L327.3,339.2 L325.2,340.6 L321.7,341.3 L319.6,342.7 L313.4,342.0Z" fill="#FFFF33" stroke="#000" stroke-width="0.7"/>
<path d="M384.5,393.0 L386.5,392.7 L387.2,396.0 L386.5,400.0 L384.5,399.5 L384.0,396.0Z" fill="#FFFFCC" stroke="#000" stroke-width="0.7"/>
<path d="M424.7,398.0 L427.0,398.3 L428.8,402.0 L429.3,406.0 L430.5,407.0 L430.5,408.8 L427.0,409.2 L425.5,408.0 L426.5,406.5 L426.0,403.0 L424.7,400.5Z" fill="#FFFF33" stroke="#000" stroke-width="0.7"/>
<g clip-path="url(#tasc)"><path d="M392.5,405.5 L391.7,410.0 L394.0,419.0 L396.0,428.0 L397.7,437.0 L401.5,444.4 L408.0,449.7 L413.4,447.4 L418.0,443.0 L422.4,438.4 L426.0,431.0 L427.7,423.4 L427.7,416.0 L425.4,412.0 L421.0,413.7 L415.0,414.5 L407.5,416.0 L401.5,413.7 L397.0,409.0 L394.7,407.0Z" fill="#FFFFCC" stroke="#222" stroke-width="0.45" stroke-linejoin="round"/>
<path d="M394.7,422.0 L400.0,425.0 L404.5,431.0 L409.0,431.7 L413.4,428.0 L412.0,422.0 L409.0,419.7 L414.0,416.7 L419.4,421.0 L422.4,426.4 L424.0,432.4 L421.0,439.0 L415.0,446.0 L407.5,449.5 L401.5,444.4 L397.7,437.0 L396.0,428.0Z" fill="#FFFF33" stroke="#222" stroke-width="0.45" stroke-linejoin="round"/>
<path d="M400.7,417.5 L403.7,416.7 L407.5,422.0 L412.0,425.0 L411.0,427.0 L405.0,427.0 L400.7,422.7Z" fill="#CCFFCC" stroke="#222" stroke-width="0.45" stroke-linejoin="round"/>
<path d="M404.0,442.0 L407.0,440.5 L411.0,441.5 L412.0,445.0 L410.0,448.5 L406.0,448.5 L404.0,446.0Z" fill="#FFFFCC" stroke="#222" stroke-width="0.45" stroke-linejoin="round"/>
<path d="M406.6,445.6 L408.6,443.5 L410.6,445.6 L408.6,447.8Z" fill="#CCFFCC" stroke="#222" stroke-width="0.45" stroke-linejoin="round"/>
<path d="M411.0,436.0 L412.5,434.5 L414.0,436.0 L412.5,437.5Z" fill="#FFCC66" stroke="#222" stroke-width="0.45" stroke-linejoin="round"/></g>
<path d="M392.5,405.5 L391.7,410.0 L394.0,419.0 L396.0,428.0 L397.7,437.0 L401.5,444.4 L408.0,449.7 L413.4,447.4 L418.0,443.0 L422.4,438.4 L426.0,431.0 L427.7,423.4 L427.7,416.0 L425.4,412.0 L421.0,413.7 L415.0,414.5 L407.5,416.0 L401.5,413.7 L397.0,409.0 L394.7,407.0Z" fill="none" stroke="#000" stroke-width="0.9"/>
<circle cx="351" cy="97.5" r="0.8" fill="#000"/>
<circle cx="60" cy="160.5" r="0.8" fill="#000"/>
<circle cx="390" cy="12.5" r="0.8" fill="#000"/>
<circle cx="391.5" cy="9.5" r="0.8" fill="#000"/>
<circle cx="152" cy="89" r="0.8" fill="#000"/>
<circle cx="157.5" cy="90.5" r="0.8" fill="#000"/>
<circle cx="167" cy="75" r="0.8" fill="#000"/>
<circle cx="174.5" cy="64.5" r="0.8" fill="#000"/>
<circle cx="180" cy="61" r="0.8" fill="#000"/>
<circle cx="438.5" cy="126" r="0.8" fill="#000"/>
<circle cx="441.5" cy="131.5" r="0.8" fill="#000"/>
<circle cx="466.5" cy="148.5" r="0.8" fill="#000"/>
<circle cx="479" cy="174" r="0.8" fill="#000"/>
<circle cx="318" cy="22" r="0.8" fill="#000"/>
<circle cx="322" cy="38" r="0.8" fill="#000"/>
<circle cx="41.5" cy="222" r="0.8" fill="#000"/>
<circle cx="42" cy="228" r="0.8" fill="#000"/>
<circle cx="304" cy="327" r="0.8" fill="#000"/>
<circle cx="211" cy="74" r="0.8" fill="#000"/>
<rect x="571" y="69.00" width="27" height="16.26" fill="#993300"/>
<rect x="571" y="85.26" width="27" height="16.26" fill="#996633"/>
<path d="M571,85.26h27" stroke="#333" stroke-width="0.5" stroke-dasharray="2 0.6"/>
<rect x="571" y="101.52" width="27" height="16.26" fill="#CC0000"/>
<path d="M571,101.52h27" stroke="#333" stroke-width="0.5" stroke-dasharray="2 0.6"/>
<rect x="571" y="117.78" width="27" height="16.26" fill="#FF3333"/>
<path d="M571,117.78h27" stroke="#333" stroke-width="0.5" stroke-dasharray="2 0.6"/>
<rect x="571" y="134.04" width="27" height="16.26" fill="#FF9999"/>
<path d="M571,134.04h27" stroke="#333" stroke-width="0.5" stroke-dasharray="2 0.6"/>
<rect x="571" y="150.30" width="27" height="16.26" fill="#FFCCCC"/>
<path d="M571,150.30h27" stroke="#333" stroke-width="0.5" stroke-dasharray="2 0.6"/>
<rect x="571" y="166.56" width="27" height="16.26" fill="#FFCC66"/>
<path d="M571,166.56h27" stroke="#333" stroke-width="0.5" stroke-dasharray="2 0.6"/>
<rect x="571" y="182.82" width="27" height="16.26" fill="#FFFF33"/>
<path d="M571,182.82h27" stroke="#333" stroke-width="0.5" stroke-dasharray="2 0.6"/>
<rect x="571" y="199.08" width="27" height="16.26" fill="#FFFFCC"/>
<path d="M571,199.08h27" stroke="#333" stroke-width="0.5" stroke-dasharray="2 0.6"/>
<rect x="571" y="215.34" width="27" height="16.26" fill="#CCFFCC"/>
<path d="M571,215.34h27" stroke="#333" stroke-width="0.5" stroke-dasharray="2 0.6"/>
<rect x="571" y="231.60" width="27" height="16.26" fill="#66FF66"/>
<path d="M571,231.60h27" stroke="#333" stroke-width="0.5" stroke-dasharray="2 0.6"/>
<rect x="571" y="247.86" width="27" height="16.26" fill="#00C800"/>
<path d="M571,247.86h27" stroke="#333" stroke-width="0.5" stroke-dasharray="2 0.6"/>
<rect x="571" y="264.12" width="27" height="16.26" fill="#99FFFF"/>
<path d="M571,264.12h27" stroke="#333" stroke-width="0.5" stroke-dasharray="2 0.6"/>
<rect x="571" y="280.38" width="27" height="16.26" fill="#33CCFF"/>
<path d="M571,280.38h27" stroke="#333" stroke-width="0.5" stroke-dasharray="2 0.6"/>
<rect x="571" y="296.64" width="27" height="16.26" fill="#6666FF"/>
<path d="M571,296.64h27" stroke="#333" stroke-width="0.5" stroke-dasharray="2 0.6"/>
<rect x="571" y="312.90" width="27" height="16.26" fill="#CCCCCC"/>
<path d="M571,312.90h27" stroke="#333" stroke-width="0.5" stroke-dasharray="2 0.6"/>
<rect x="571" y="329.16" width="27" height="16.26" fill="#FFB3FF"/>
<path d="M571,329.16h27" stroke="#333" stroke-width="0.5" stroke-dasharray="2 0.6"/>
<rect x="571" y="345.42" width="27" height="16.26" fill="#FF00FF"/>
<path d="M571,345.42h27" stroke="#333" stroke-width="0.5" stroke-dasharray="2 0.6"/>
<rect x="571" y="361.68" width="27" height="16.26" fill="#990099"/>
<path d="M571,361.68h27" stroke="#333" stroke-width="0.5" stroke-dasharray="2 0.6"/>
<rect x="571" y="69" width="27" height="308.94" fill="none" stroke="#888" stroke-width="0.9"/>
<text x="614.8" y="88.6" text-anchor="middle" class="lg">45<tspan dy="-4.2" font-size="6.2">o</tspan><tspan dy="4.2">C</tspan></text>
<text x="614.8" y="104.9" text-anchor="middle" class="lg">42<tspan dy="-4.2" font-size="6.2">o</tspan><tspan dy="4.2">C</tspan></text>
<text x="614.8" y="121.2" text-anchor="middle" class="lg">39<tspan dy="-4.2" font-size="6.2">o</tspan><tspan dy="4.2">C</tspan></text>
<text x="614.8" y="137.5" text-anchor="middle" class="lg">36<tspan dy="-4.2" font-size="6.2">o</tspan><tspan dy="4.2">C</tspan></text>
<text x="614.8" y="153.8" text-anchor="middle" class="lg">33<tspan dy="-4.2" font-size="6.2">o</tspan><tspan dy="4.2">C</tspan></text>
<text x="614.8" y="170.1" text-anchor="middle" class="lg">30<tspan dy="-4.2" font-size="6.2">o</tspan><tspan dy="4.2">C</tspan></text>
<text x="614.8" y="186.4" text-anchor="middle" class="lg">27<tspan dy="-4.2" font-size="6.2">o</tspan><tspan dy="4.2">C</tspan></text>
<text x="614.8" y="202.7" text-anchor="middle" class="lg">24<tspan dy="-4.2" font-size="6.2">o</tspan><tspan dy="4.2">C</tspan></text>
<text x="614.8" y="219.0" text-anchor="middle" class="lg">21<tspan dy="-4.2" font-size="6.2">o</tspan><tspan dy="4.2">C</tspan></text>
<text x="614.8" y="235.3" text-anchor="middle" class="lg">18<tspan dy="-4.2" font-size="6.2">o</tspan><tspan dy="4.2">C</tspan></text>
<text x="614.8" y="251.6" text-anchor="middle" class="lg">15<tspan dy="-4.2" font-size="6.2">o</tspan><tspan dy="4.2">C</tspan></text>
<text x="614.8" y="267.9" text-anchor="middle" class="lg">12<tspan dy="-4.2" font-size="6.2">o</tspan><tspan dy="4.2">C</tspan></text>
<text x="614.8" y="284.2" text-anchor="middle" class="lg">9<tspan dy="-4.2" font-size="6.2">o</tspan><tspan dy="4.2">C</tspan></text>
<text x="614.8" y="300.5" text-anchor="middle" class="lg">6<tspan dy="-4.2" font-size="6.2">o</tspan><tspan dy="4.2">C</tspan></text>
<text x="614.8" y="316.8" text-anchor="middle" class="lg">3<tspan dy="-4.2" font-size="6.2">o</tspan><tspan dy="4.2">C</tspan></text>
<text x="614.8" y="333.1" text-anchor="middle" class="lg">0<tspan dy="-4.2" font-size="6.2">o</tspan><tspan dy="4.2">C</tspan></text>
<text x="614.8" y="349.4" text-anchor="middle" class="lg">−3<tspan dy="-4.2" font-size="6.2">o</tspan><tspan dy="4.2">C</tspan></text>
<text x="614.8" y="365.7" text-anchor="middle" class="lg">−6<tspan dy="-4.2" font-size="6.2">o</tspan><tspan dy="4.2">C</tspan></text>
</svg>
<svg width="130" height="60" viewBox="0 0 130 60" style="position:absolute;left:0;top:0">
<path d="M67.44,48.32l-0.31,0.61 M55.88,45.64l1.19,0.22 M90.09,47.24l0.69,0.15 M49.77,48.70l0.80,0.33 M53.42,42.50l-0.26,1.04 M78.21,46.21l-0.86,0.41 M78.16,47.89l0.89,1.30 M81.22,50.24l-0.44,0.95 M65.62,45.98l0.83,0.16 M64.57,43.09l0.72,1.09 M57.70,47.27l-1.15,0.87 M73.06,50.60l-0.13,1.64 M70.35,43.43l-0.74,0.05 M51.20,48.77l1.05,0.55 M94.33,47.50l-0.95,0.87 M83.33,44.19l-0.76,1.07 M55.81,44.58l-1.52,0.84 M49.91,47.12l1.42,0.27 M55.58,41.96l-0.80,0.50 M55.14,49.38l1.15,0.08 M76.96,48.05l1.50,0.28 M81.79,48.40l0.55,1.55 M88.58,48.20l-0.26,1.64 M83.18,41.70l0.70,0.84 M55.76,50.45l-0.77,0.10 M78.27,48.79l0.88,0.79 M60.19,44.87l1.10,0.01 M58.02,49.45l-1.41,0.21 M50.52,45.96l-0.35,0.57 M92.11,43.49l-1.44,0.60 M58.57,48.59l1.29,0.43 M78.95,46.94l0.63,0.48 M68.86,47.47l0.78,0.00 M85.76,48.39l1.64,0.13 M64.19,44.98l0.71,0.72 M65.87,47.86l-1.59,0.82 M53.37,47.21l0.70,0.19 M64.41,48.78l-0.68,0.41 M99.12,47.17l-0.07,0.77 M67.87,46.14l-0.16,1.77 M87.44,42.87l0.71,0.76 M84.45,50.63l-0.16,1.53 M65.97,48.69l-1.48,0.99 M87.29,42.40l-1.25,0.80 M75.19,50.35l0.28,0.57 M86.75,46.90l0.98,1.04 M90.19,45.38l-1.75,0.35 M88.41,45.45l0.67,0.56 M76.41,48.76l-0.64,1.55 M82.64,43.14l-0.72,1.38 M91.75,48.69l-1.48,0.43 M72.29,42.54l1.31,0.82 M59.94,50.71l-1.07,0.10 M50.24,49.53l-0.52,0.61 M79.82,47.94l-1.50,0.46 M87.63,50.41l-1.39,0.09 M60.12,49.72l0.57,0.25 M94.32,45.57l-0.14,1.71 M48.52,48.49l-0.73,0.44 M72.10,49.40l0.95,0.89 M71.22,49.98l1.55,0.68 M60.85,49.38l-0.44,1.63 M48.87,48.94l-0.01,1.24 M68.51,46.28l0.15,0.81 M97.14,46.51l1.00,0.60 M69.05,42.29l0.64,1.04 M49.12,44.71l1.20,0.42 M72.41,49.32l-0.91,0.79 M49.83,44.55l-1.09,0.31 M57.24,43.82l-0.05,1.43 M52.87,47.59l0.12,1.73 M64.11,41.44l-0.90,0.16 M47.13,44.41l-0.67,0.37 M85.63,48.95l0.87,0.20 M92.68,48.41l-1.30,1.05 M85.58,50.27l-0.37,0.68 M92.55,42.71l1.34,1.11 M56.69,48.71l-1.60,0.05 M81.93,49.49l-0.05,1.01 M77.53,49.35l-0.40,0.48 M54.87,45.16l1.00,0.06 M58.10,43.59l1.75,0.36 M78.82,41.06l0.87,0.30 M96.07,47.60l0.50,0.57 M48.82,48.88l-0.77,0.49 M88.04,50.69l-0.32,1.41 M77.92,47.10l-0.62,0.92 M96.48,48.76l-0.64,1.42 M94.53,48.97l1.60,0.34 M56.75,47.32l-0.28,1.69 M71.16,48.38l-0.07,0.88 M80.91,47.81l0.83,0.13 M66.44,49.23l-0.69,0.65 M60.54,46.39l0.29,0.55 M72.27,47.08l-0.84,0.94 M79.39,49.95l-0.71,0.15 M79.95,43.07l0.03,1.60 M56.78,48.85l-0.99,1.48 M58.32,50.63l-0.82,1.09 M58.73,48.24l0.74,0.13 M93.89,48.45l0.55,0.57 M94.28,48.97l-1.29,0.56 M69.55,49.07l0.70,0.92 M82.47,49.49l1.19,1.29 M92.55,45.68l1.27,1.22 M66.20,49.48l1.06,0.00 M52.80,47.01l0.97,0.71 M86.57,46.48l1.04,0.30 M76.31,46.60l0.51,0.72 M54.90,44.32l-0.98,0.98 M66.75,41.29l0.34,0.93 M82.98,46.18l-0.89,1.05 M96.74,47.77l-1.28,0.45 M69.74,41.40l1.11,0.52 M46.87,46.25l-1.30,0.92 M49.57,43.74l-0.78,1.20 M72.89,47.36l0.94,0.42 M92.38,49.50l-0.25,1.33 M56.17,43.12l0.02,0.60 M79.38,41.79l-0.01,1.24 M68.42,45.18l-0.61,0.66 M85.07,47.68l-0.56,0.64 M70.52,40.90l0.02,1.06 M49.47,46.99l-1.00,0.90 M67.44,45.18l0.81,0.40 M71.62,43.32l-0.13,0.60 M85.66,47.46l-0.74,1.23 M65.52,43.71l-0.06,1.16 M62.91,46.79l-0.79,0.28 M98.94,45.65l1.15,0.06 M83.91,41.43l0.15,0.91 M79.03,51.63l1.02,0.80 M84.94,49.52l-0.75,0.11 M80.75,42.80l-1.35,0.50 M75.35,51.62l0.03,0.63 M91.78,46.48l0.15,0.95 M82.62,48.91l0.88,1.35 M96.38,46.44l-0.65,0.36 M93.30,44.29l-0.90,0.29 M60.16,48.90l-1.31,0.00 M60.61,49.18l0.43,0.50 M92.68,49.42l1.07,1.35 M72.34,49.26l-0.03,0.83 M53.24,50.28l-1.47,0.56 M54.19,42.49l-1.24,0.23 M71.10,45.17l-0.76,0.85 M72.65,41.92l0.41,0.52 M81.17,45.51l0.09,1.01 M65.21,50.96l-0.91,0.07 M63.78,43.85l-0.19,1.06 M77.83,48.33l1.34,1.03 M59.23,46.44l-1.72,0.52 M62.39,47.03l0.58,0.40 M67.69,47.80l0.67,0.62 M48.54,44.17l-0.77,0.78 M55.01,48.46l0.38,0.93 M85.83,47.50l-0.75,0.08 M50.21,46.29l-0.78,0.36 M70.45,49.14l0.35,1.08 M96.84,44.93l-0.58,0.24 M95.23,47.33l-1.11,0.38 M71.96,46.35l0.57,1.61 M84.04,41.81l-0.89,0.08 M80.74,47.77l-0.10,1.41 M94.33,44.69l-0.68,1.36 M52.36,47.48l1.53,0.19 M75.19,51.69l-0.43,0.87 M81.96,48.40l-0.60,1.31 M77.90,47.34l-0.10,1.30 M62.24,48.09l-0.19,0.58" stroke="#222" stroke-width="0.55" fill="none" stroke-linecap="round"/>
<path d="M66.75,49.25l-1.36,0.18 M85.42,44.34l0.66,0.60 M93.10,45.47l0.36,0.51 M51.26,46.43l0.23,0.88 M60.06,42.67l0.49,0.42 M63.56,48.84l-0.45,0.70 M78.69,42.73l-0.01,0.85 M86.31,45.92l-0.74,0.47 M76.26,50.21l1.05,1.39 M61.20,46.44l0.84,0.71 M59.63,42.65l0.96,0.48 M78.10,50.66l0.60,0.29 M87.19,47.42l-1.58,0.52 M69.51,41.97l-0.97,0.21 M82.04,50.35l-0.45,0.46 M64.21,44.04l0.39,0.92 M72.94,46.60l0.65,0.79 M80.93,45.96l-0.84,0.10 M57.87,49.55l-0.95,0.59 M89.05,47.32l0.66,1.57 M77.69,48.90l-0.60,0.20 M52.74,48.52l-0.48,0.43 M78.53,46.63l-0.88,0.23 M71.86,42.17l0.45,0.81 M91.67,45.47l0.99,1.07 M66.83,48.52l1.51,0.02 M89.91,44.61l-0.62,0.11 M74.06,49.44l-1.73,0.24 M62.58,47.85l0.26,1.16 M82.12,45.56l-1.21,0.86 M82.21,42.88l-0.33,0.94 M65.76,48.81l-0.54,0.44 M79.49,50.04l0.48,0.48 M90.87,47.09l0.92,1.52 M91.19,43.43l0.47,0.52 M87.13,48.18l-0.70,0.90 M73.91,49.25l-0.52,1.31 M71.98,42.29l-0.37,0.65 M79.77,44.36l-0.22,1.02 M71.42,44.41l0.64,0.63 M86.01,49.83l-0.24,0.96 M52.03,49.08l-0.02,0.88 M79.70,43.03l-0.72,0.02 M49.40,47.02l-1.49,0.82 M85.70,46.99l0.77,0.30 M91.54,45.81l-1.02,0.23 M83.71,44.17l1.05,1.12 M80.12,45.90l-0.40,1.28 M75.41,49.04l0.76,0.36 M71.66,49.83l-0.39,0.75 M86.88,46.57l-0.44,0.70 M67.88,48.24l-1.01,0.75 M79.79,46.94l0.41,1.19 M67.32,45.36l1.25,0.71 M60.78,47.66l0.99,1.43 M64.92,49.48l0.48,0.99 M89.08,43.04l0.35,0.76 M70.69,44.40l1.68,0.03 M51.71,48.25l0.48,1.59 M62.27,46.83l1.26,0.06 M56.79,43.11l1.29,0.37 M59.76,48.68l0.84,0.42 M47.87,45.82l1.12,0.40 M80.77,42.27l0.61,0.44 M95.95,44.85l0.04,0.66 M86.53,45.15l-1.28,0.40 M76.90,44.80l-0.68,0.54 M52.85,48.70l-0.70,0.42 M75.49,49.15l-0.06,1.06 M81.38,47.93l-1.09,1.28 M90.83,47.24l-0.47,0.45 M76.90,45.09l-0.39,1.20 M62.39,44.63l0.32,1.26 M53.72,48.01l0.19,1.11 M92.19,46.90l0.03,0.88 M74.20,42.47l0.11,0.81 M64.02,46.63l1.03,0.44 M86.54,48.00l-0.02,0.65 M67.47,45.42l-1.03,1.14 M66.33,46.31l-0.01,1.05 M81.27,45.89l-1.62,0.78 M69.68,42.40l1.46,1.02 M47.28,46.61l-0.77,0.21 M78.17,42.22l1.00,0.21 M72.67,44.62l-0.88,0.30 M76.16,44.84l-0.01,1.70 M75.67,48.59l-0.02,0.98 M82.91,46.82l1.51,0.84 M61.92,42.58l1.33,0.78 M86.26,48.53l-0.43,0.94" stroke="#777" stroke-width="0.5" fill="none" stroke-linecap="round"/>
<path d="M53.74,27.77l-0.41,1.61 M55.08,36.67l-0.43,0.99 M51.89,28.09l-1.29,0.04 M48.34,37.16l0.15,0.80 M51.09,30.21l-0.76,0.49 M47.95,25.99l-0.37,1.35 M51.05,32.23l0.77,0.08 M48.68,28.51l-0.07,1.67 M52.75,34.66l-0.29,0.56 M54.12,32.00l0.97,0.34 M51.75,37.80l-0.23,0.81 M48.68,28.15l1.57,0.71 M51.21,34.93l1.30,0.40 M54.19,26.94l0.28,0.87 M55.15,32.37l-0.20,1.00 M49.10,27.81l-1.45,0.29 M51.18,39.33l1.23,0.17 M49.11,34.04l1.51,0.28 M54.84,32.37l-0.76,0.14 M52.35,37.69l-0.03,1.37 M51.95,28.92l0.54,0.79 M55.64,34.13l-1.13,0.92 M55.73,32.21l-0.81,0.83 M50.96,26.69l0.55,0.47 M51.24,33.45l0.74,1.30 M49.58,25.18l-0.57,0.72 M48.01,30.22l-0.97,0.76 M50.75,38.14l-0.86,0.09 M51.58,31.27l0.60,0.64 M50.95,24.36l-0.69,0.71 M53.23,28.87l1.23,1.15 M48.29,27.18l-0.88,1.54 M46.63,33.28l-0.95,1.33 M47.20,34.47l-0.21,0.95 M52.07,37.89l1.64,0.41 M51.64,32.93l1.62,0.56 M50.08,34.35l0.65,0.06 M49.73,26.12l-0.86,1.21 M54.66,34.33l0.66,1.44 M53.14,25.26l1.61,0.34 M55.31,28.05l0.80,0.28 M51.84,32.86l-1.40,0.72 M48.11,26.64l-0.38,0.87 M52.40,33.35l-0.61,0.58 M49.76,36.52l0.91,0.06" stroke="#333" stroke-width="0.5" fill="none" stroke-linecap="round"/>
<path d="M93.76,38.38l0.40,0.90 M97.61,30.68l-1.20,0.60 M97.34,32.89l0.30,1.50 M92.40,37.29l-0.10,0.85 M95.40,30.14l-0.68,0.43 M96.53,31.95l-1.30,1.21 M97.65,32.07l0.04,1.56 M95.78,36.94l0.74,1.42 M94.24,39.47l0.54,0.67 M93.55,26.70l1.28,0.46 M97.98,35.29l-0.90,1.26 M92.69,28.58l0.33,1.02 M95.54,30.47l-0.59,0.22 M95.15,35.77l-1.14,0.37 M91.49,36.96l0.86,0.77 M90.74,30.59l-0.98,0.96 M93.05,35.55l1.42,0.76 M92.52,26.21l0.97,0.57 M95.03,26.06l1.07,0.45 M96.16,29.41l0.79,0.54 M93.34,25.08l0.70,0.37 M94.57,36.37l-0.06,0.79 M93.62,34.91l-1.47,0.12 M98.03,36.48l1.01,0.33 M98.48,31.22l-0.75,0.83 M95.71,37.79l0.80,0.28 M93.90,32.85l0.48,1.47 M93.43,26.76l-0.47,1.06 M96.70,36.63l0.44,1.42 M96.97,29.13l-0.35,1.46 M92.66,33.69l-1.06,1.27 M95.09,25.48l-1.27,0.63 M92.64,27.85l0.75,1.13 M96.89,34.83l-1.13,0.92 M93.00,29.09l0.27,1.11 M92.47,28.48l-0.90,1.46 M96.00,37.68l-0.82,0.68 M90.15,32.41l1.24,0.15 M96.62,37.76l-1.20,0.23 M97.25,35.43l-0.19,1.45 M90.98,31.45l-1.05,0.63 M90.87,35.97l1.12,0.87 M91.50,36.18l1.65,0.67 M93.88,33.38l0.70,0.82 M97.40,32.34l0.36,1.39" stroke="#333" stroke-width="0.5" fill="none" stroke-linecap="round"/>
<path d="M70.73,54.21l1.13,0.97 M75.66,52.32l1.21,0.99 M70.48,53.87l1.41,0.61 M73.73,51.00l0.12,1.27 M73.01,55.77l0.61,1.22 M74.17,50.78l0.10,0.95 M70.59,52.77l-0.89,0.51 M73.81,51.90l0.34,0.84 M70.35,53.60l1.47,0.01 M71.79,54.42l0.69,0.95 M68.68,54.03l-0.50,0.91 M76.45,51.95l1.57,0.28 M75.96,51.69l1.44,0.68 M71.87,52.81l1.74,0.06 M70.88,51.91l0.73,0.24 M72.73,55.50l0.36,0.69 M75.95,51.66l1.44,0.84 M68.84,51.52l-0.84,1.44 M73.36,50.59l1.16,0.83 M68.04,52.60l0.32,1.63 M69.85,52.58l0.57,0.51 M71.07,53.09l0.08,0.77 M68.75,53.17l-0.20,1.62 M76.86,53.17l0.13,1.27 M69.95,50.87l0.42,1.02" stroke="#111" stroke-width="0.6" fill="none" stroke-linecap="round"/>
<path d="M42.79,38.27 L57.25,37.82 L72.28,38.60 L87.30,37.82 L101.76,38.27 L101.21,40.27 L87.30,39.82 L72.28,40.49 L57.25,39.82 L43.35,40.27Z" fill="#444" opacity="0.7"/>
<path d="M66.38,23.02 L78.40,23.02 L78.40,30.81 L76.73,34.15 L72.39,36.49 L68.05,34.15 L66.38,30.81Z" fill="#aaa" stroke="#333" stroke-width="0.5"/>
<circle cx="68.94" cy="25.80" r="1.0" fill="#555"/>
<circle cx="72.39" cy="25.80" r="1.0" fill="#555"/>
<circle cx="75.84" cy="25.80" r="1.0" fill="#555"/>
<circle cx="68.94" cy="29.70" r="1.0" fill="#555"/>
<circle cx="72.39" cy="29.70" r="1.0" fill="#555"/>
<circle cx="75.84" cy="29.70" r="1.0" fill="#555"/>
<circle cx="72.39" cy="33.37" r="1.0" fill="#555"/>
<path d="M66.38,27.47 L78.40,27.47 M70.38,23.02 L70.38,35.26 M74.39,23.02 L74.39,35.26" stroke="#eee" stroke-width="0.35" fill="none"/>
<path d="M62.26,17.46 L63.37,18.57 L64.15,17.46 L64.82,18.90 L66.71,20.46 L66.49,21.35 L65.04,21.58 L64.82,23.02 L65.93,25.80 L67.05,27.14 L66.71,28.03 L65.27,27.14 L64.82,30.25 L64.15,33.59 L63.37,36.37 L62.82,39.71 L64.15,40.49 L61.71,40.94 L60.37,40.27 L60.82,37.15 L58.92,39.38 L53.92,40.27 L48.35,40.27 L43.35,39.16 L48.91,38.93 L53.92,38.27 L56.14,35.26 L56.70,31.37 L58.37,28.03 L61.15,24.69 L62.60,21.91 L62.37,19.68Z" fill="#000"/>
<path d="M80.07,19.13 L81.73,18.90 L82.62,20.02 L81.51,20.80 L81.18,23.02 L81.73,25.80 L83.96,26.92 L88.41,27.47 L91.19,29.70 L91.97,31.92 L90.64,33.04 L88.41,34.15 L87.30,34.71 L87.52,38.04 L88.41,40.27 L86.41,40.49 L86.19,37.49 L85.63,34.93 L84.52,34.71 L84.18,38.04 L82.29,40.27 L81.51,39.71 L83.07,37.15 L83.07,34.15 L80.62,32.48 L79.29,29.14 L78.95,24.69 L79.51,21.35Z" fill="#000"/>
<path d="M71.72,14.35 L72.15,15.44 L73.28,15.10 L72.69,16.12 L73.67,16.79 L72.50,16.97 L72.59,18.15 L71.72,17.35 L70.85,18.15 L70.94,16.97 L69.77,16.79 L70.74,16.12 L70.16,15.10 L71.29,15.44Z" fill="#000"/>
<rect x="68.72" y="19.46" width="6.45" height="1.22" fill="#111"/>
</svg>
<div class="t" id="ag">Australian Government</div>
<div id="rule"></div>
<div class="t" id="bm">Bureau of Meteorology</div>
<div class="t" id="t1">Maximum Temperature (<sup class="o">o</sup>C)</div>
<div class="t" id="t2">13th February 2007</div>
<div class="t" id="t3">Product of the National Climate Centre</div>
<div class="t" id="url">http://www.bom.gov.au</div>
<div class="t" id="cp">&copy; Commonwealth of Australia 2008, Australian Bureau of Meteorology</div>
<div class="t" id="is">Issued: 10/01/2008</div>
</body></html>
